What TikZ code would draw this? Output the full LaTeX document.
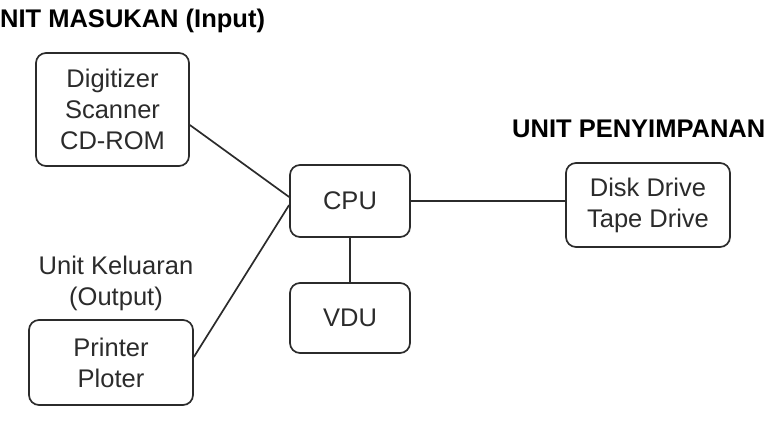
\documentclass[tikz,border=0pt]{standalone}
\usepackage{fontspec}
\setmainfont{Liberation Sans}
\usetikzlibrary{calc}
\definecolor{ink}{HTML}{2B2B2B}
\begin{document}
\begin{tikzpicture}[x=1pt,y=-1pt,
  box/.style={draw=ink, line width=1.7pt, rounded corners=10pt, inner sep=0pt, align=center,
    text=ink, font=\fontsize{25.5}{31}\selectfont},
  lbl/.style={inner sep=0pt, align=center, text=ink, font=\fontsize{25.5}{31}\selectfont},
  ttl/.style={inner sep=0pt, text=black, font=\bfseries\fontsize{25.5}{31}\selectfont},
  conn/.style={draw=ink, line width=1.7pt}]
\useasboundingbox (0,0) rectangle (774,426);
\node[ttl, anchor=west] (t1) at (0,21) {NIT MASUKAN (Input)};
\node[ttl, anchor=west] (t2) at (512,129) {UNIT PENYIMPANAN};
\node[box, minimum width=153pt, minimum height=113pt] (dig) at (112.5,109.5) {Digitizer\\Scanner\\CD-ROM};
\node[box, minimum width=120pt, minimum height=72pt] (cpu) at (350,201) {CPU};
\node[box, minimum width=120pt, minimum height=70pt] (vdu) at (350,318) {VDU};
\node[box, minimum width=164pt, minimum height=84pt] (disk) at (648,205) {Disk Drive\\Tape Drive};
\node[box, minimum width=164pt, minimum height=85pt] (prn) at (111,362.5) {Printer\\Ploter};
\node[lbl] (kel) at (116,283) {Unit Keluaran\\(Output)};
\draw[conn] ($(dig.east)+(0,15.5)$) -- ($(cpu.west)+(0,-4)$);
\draw[conn] ($(prn.east)+(0,-5.5)$) -- ($(cpu.west)+(0,4)$);
\draw[conn] (cpu.east) -- (cpu.east -| disk.west);
\draw[conn] (cpu.south) -- (vdu.north);
\end{tikzpicture}
\end{document}
